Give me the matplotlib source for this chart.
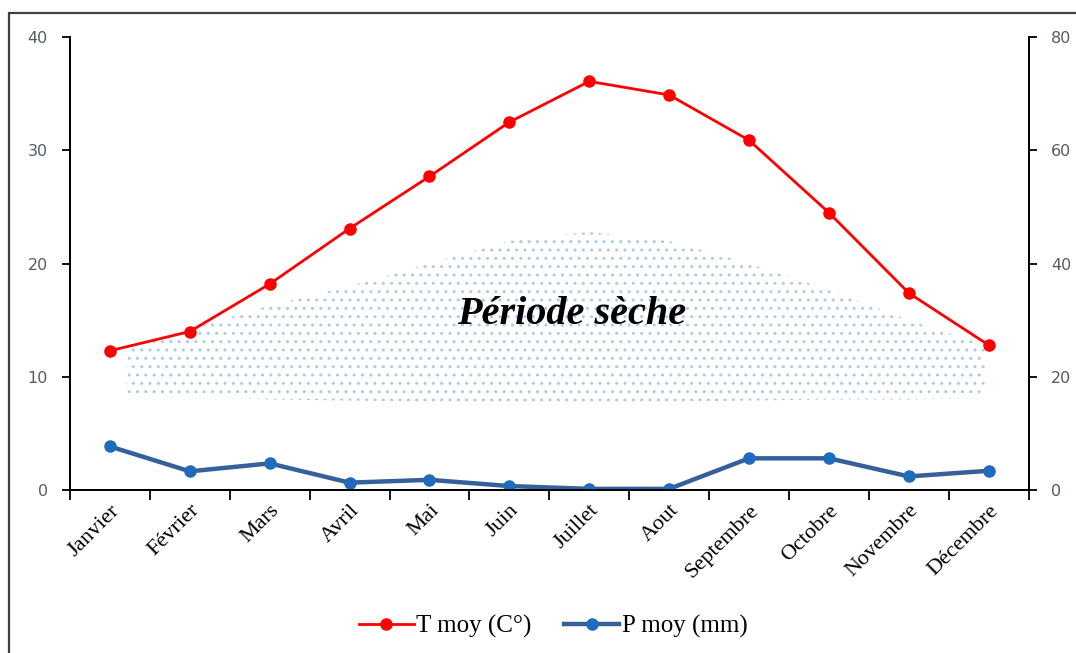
import numpy as np
import matplotlib
matplotlib.use("Agg")
import matplotlib.pyplot as plt
from matplotlib.patches import Rectangle

# data
months = ["Janvier", "Février", "Mars", "Avril", "Mai", "Juin", "Juillet",
          "Aout", "Septembre", "Octobre", "Novembre", "Décembre"]
t_moy = [12.3, 14.0, 18.2, 23.1, 27.7, 32.5, 36.1, 34.9, 30.9, 24.5, 17.4, 12.8]
p_moy = [7.7, 3.3, 4.7, 1.3, 1.8, 0.7, 0.2, 0.2, 5.6, 5.6, 2.4, 3.4]

# outline of the dry-period area (in temperature units)
dry_x = [0.2, 1, 2, 3, 4, 5, 6, 7, 8, 9, 10, 10.95]
dry_top = [12.6, 14.2, 16.3, 18.0, 20.0, 22.0, 22.8, 22.0, 20.0, 17.7, 15.0, 12.8]
dry_bottom = [8.4, 8.2, 8.0, 7.9, 7.8, 7.8, 7.8, 7.8, 7.9, 8.0, 8.0, 8.1]

serif = "Liberation Serif"
tick_grey = "#555b66"

plt.rcParams["hatch.linewidth"] = 1.0
fig = plt.figure(figsize=(10.76, 6.53), dpi=100)
ax = fig.add_axes([0.065, 0.2496, 0.891, 0.6934])
ax2 = ax.twinx()

x = np.arange(len(months))

ax.fill_between(dry_x, dry_bottom, dry_top, facecolor="none",
                edgecolor="#abcbeb", linewidth=0, hatch="..")
ax.text(5.78, 15.5, "Période sèche", family=serif, fontsize=29,
        fontweight="bold", fontstyle="italic", ha="center", va="center")

l1, = ax.plot(x, t_moy, color="#ff0000", lw=2, marker="o", ms=8,
              label="T moy (C°)")
l2, = ax2.plot(x, p_moy, color="#35609a", lw=3.2, marker="o", ms=8,
               mfc="#1f6bbd", mec="#1f6bbd", label="P moy (mm)")

ax.set_xlim(-0.5, 11.5)
ax.set_ylim(0, 40)
ax2.set_ylim(0, 80)
ax.set_yticks([0, 10, 20, 30, 40])
ax2.set_yticks([0, 20, 40, 60, 80])

ax.set_xticks(x)
ax.set_xticklabels(months, rotation=45, ha="right", rotation_mode="anchor",
                   family=serif, fontsize=16)
ax.set_xticks(np.arange(-0.5, 12, 1), minor=True)
ax.tick_params(axis="x", which="major", length=0, pad=8)
ax.tick_params(axis="x", which="minor", length=7, width=1.3, direction="out")
for a in (ax, ax2):
    a.tick_params(axis="y", length=6, width=1.3, labelsize=11.5,
                  labelcolor=tick_grey, pad=10)
    a.spines["top"].set_visible(False)
    for s in ("left", "right", "bottom"):
        a.spines[s].set_linewidth(1.3)

fig.legend(handles=[l1, l2], loc="center", bbox_to_anchor=(0.514, 0.041),
           ncol=2, frameon=False, prop={"family": serif, "size": 18},
           handlelength=2.2, handletextpad=0.1, columnspacing=1.3)

fig.patches.append(Rectangle((9 / 1076, -0.05), 1.1, 1.05 - 13 / 653,
                             transform=fig.transFigure, fill=False,
                             edgecolor="#404040", lw=1.6))

fig.savefig("out.png", dpi=100)
